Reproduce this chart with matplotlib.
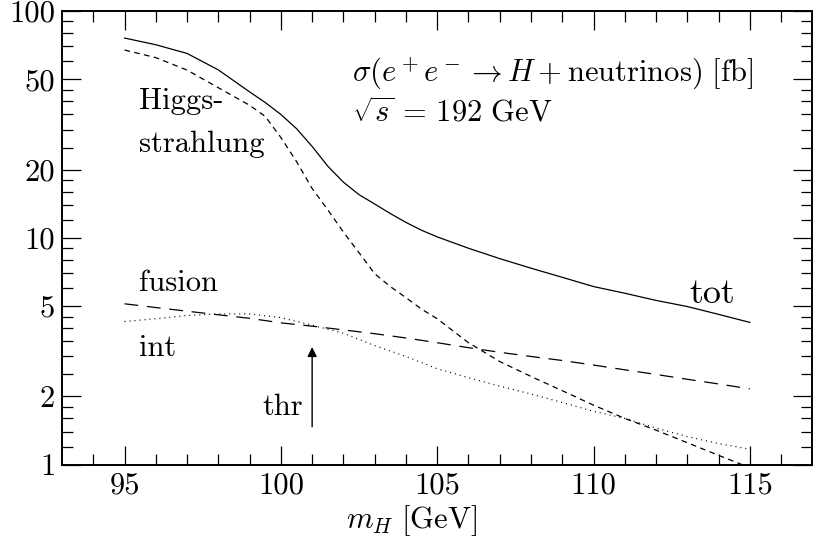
import numpy as np
import matplotlib
matplotlib.use("Agg")
from matplotlib import pyplot as plt
from matplotlib.ticker import FixedLocator, NullFormatter

plt.rcParams['font.family'] = ['cmr10', 'DejaVu Serif']
plt.rcParams['mathtext.fontset'] = 'cm'
plt.rcParams['axes.formatter.use_mathtext'] = True

#   Higgs mass points [GeV]; the steep curves are read at finer steps
m_h = [95, 96, 97, 98, 99, 100, 101, 102, 103, 104, 105,
       106, 107, 108, 109, 110, 111, 112, 113, 114, 115]
m_fine = [95, 96, 97, 98, 99, 99.5, 100, 100.5, 101, 101.5, 102, 102.5,
          103, 103.5, 104, 104.5, 105, 106, 107, 108, 109, 110,
          111, 112, 113, 114, 115]

#   cross sections [fb]
tot = [76, 71, 65, 55, 44, 39.5, 35, 30.3, 25.3, 20.7, 17.6, 15.5,
       14.1, 12.8, 11.7, 10.8, 10.1, 9.0, 8.1, 7.35, 6.7, 6.1,
       5.7, 5.3, 4.98, 4.6, 4.24]
higgsstrahlung = [67.3, 62.3, 54.9, 45.9, 38.4, 34.3, 27.7, 21.7, 16.5, 13.3, 10.6, 8.6,
                  6.95, 6.1, 5.45, 4.85, 4.4, 3.45, 2.85, 2.45, 2.12, 1.83,
                  1.6, 1.42, 1.25, 1.1, 0.97]
fusion = [5.12, 4.93, 4.75, 4.58, 4.42, 4.22, 4.08, 3.93, 3.78, 3.62, 3.45,
          3.28, 3.13, 3.0, 2.88, 2.75, 2.62, 2.5, 2.38, 2.27, 2.16]
interference = [4.28, 4.40, 4.55, 4.62, 4.62, 4.45, 4.12, 3.8, 3.35, 3.0, 2.65,
                2.42, 2.22, 2.05, 1.88, 1.72, 1.6, 1.45, 1.33, 1.24, 1.17]

y_major = [1, 2, 5, 10, 20, 50, 100]
y_minor = [1.2, 1.4, 1.6, 1.8, 2.5, 3, 3.5, 4, 4.5, 6, 7, 8, 9,
           12, 14, 16, 18, 25, 30, 35, 40, 45, 60, 70, 80, 90]
x_major = [95, 100, 105, 110, 115]
x_minor = [94, 96, 97, 98, 99, 101, 102, 103, 104, 106, 107, 108, 109,
           111, 112, 113, 114, 116]
m_thr = 101

fig = plt.figure(figsize=(8.14, 5.42), dpi=100)
ax = fig.add_axes([0.0762, 0.1426, 0.9218, 0.8371])

lw = 0.9
ax.plot(m_fine, tot, color='black', lw=lw)
ax.plot(m_fine, higgsstrahlung, color='black', lw=lw, dashes=(4.5, 3.5))
ax.plot(m_h, fusion, color='black', lw=lw, dashes=(11, 7))
ax.plot(m_h, interference, color='black', lw=lw, dashes=(0.8, 3.2))

ax.set_yscale('log')
ax.set_xlim(93, 117)
ax.set_ylim(1, 100)

ax.yaxis.set_major_locator(FixedLocator(y_major))
ax.yaxis.set_minor_locator(FixedLocator(y_minor))
ax.set_yticklabels([str(v) for v in y_major])
ax.yaxis.set_minor_formatter(NullFormatter())
ax.xaxis.set_major_locator(FixedLocator(x_major))
ax.xaxis.set_minor_locator(FixedLocator(x_minor))
ax.set_xticklabels([str(v) for v in x_major])

ax.tick_params(which='both', direction='in', top=True, right=True,
               width=0.9, labelsize=22)
ax.tick_params(which='major', length=13.5, pad=5)
ax.tick_params(which='minor', length=8)
for s in ax.spines.values():
    s.set_linewidth(1.4)

ax.set_xlabel(r'$m_H\ [\mathrm{GeV}]$', fontsize=22)
ax.xaxis.set_label_coords(0.466, -0.085)

fs = 22
ax.text(95.45, 36.8, 'Higgs-', fontsize=fs, va='baseline')
ax.text(95.45, 24.0, 'strahlung', fontsize=fs, va='baseline')
ax.text(95.45, 5.81, 'fusion', fontsize=fs, va='baseline')
ax.text(95.45, 3.02, 'int', fontsize=fs, va='baseline')
ax.text(100.7, 1.66, 'thr', fontsize=fs, va='baseline', ha='right')
ax.text(113.06, 5.16, 'tot', fontsize=26, va='baseline')
ax.text(102.29, 48.9, r'$\sigma(e^+e^- \rightarrow H + \mathrm{neutrinos})\ [\mathrm{fb}]$',
        fontsize=fs, va='baseline')
ax.text(102.29, 32.6, r'$\sqrt{s}\, =\, 192\ \mathrm{GeV}$', fontsize=fs, va='baseline')

ax.annotate('', xy=(m_thr, 3.3), xytext=(m_thr, 1.47),
            arrowprops=dict(arrowstyle='-|>', color='black', lw=1.0,
                            mutation_scale=14, shrinkA=0, shrinkB=0))

fig.savefig('out.png', dpi=100)
